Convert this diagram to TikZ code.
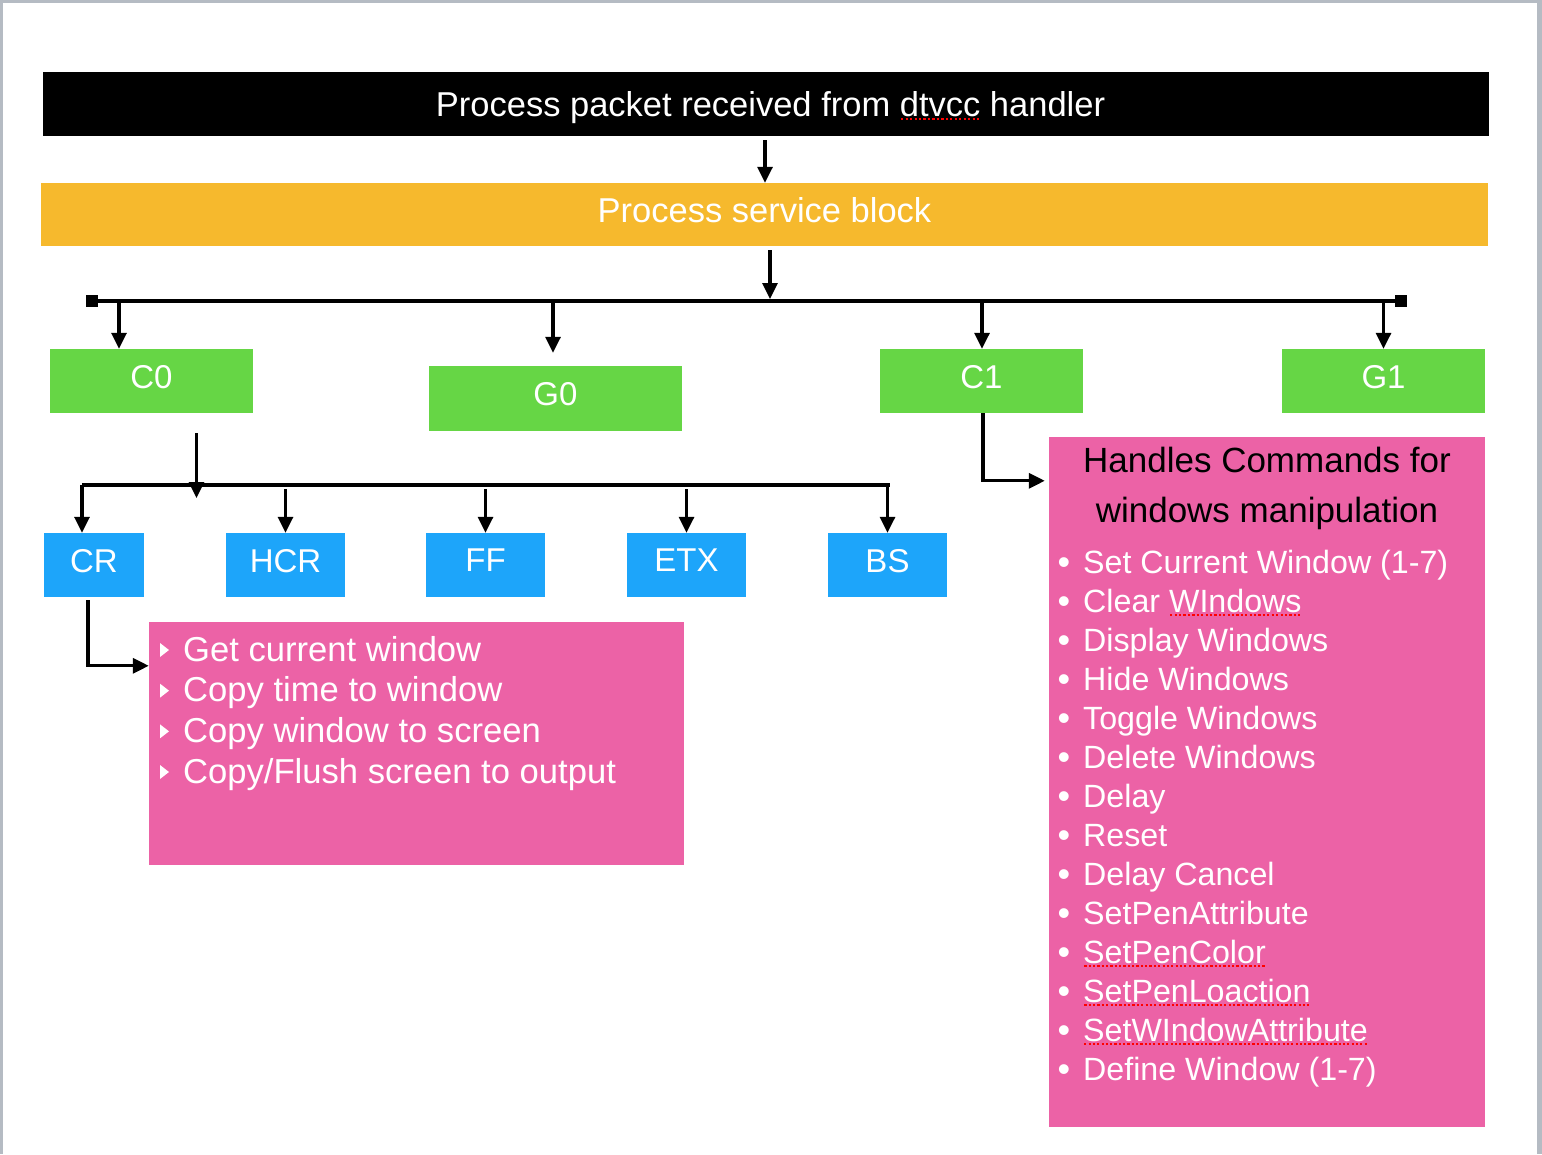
\documentclass[tikz,border=0pt]{standalone}
\usepackage{fontspec}
\setmainfont{Liberation Sans}
\usetikzlibrary{arrows.meta, positioning}

\definecolor{pagegray}{HTML}{B5BBC3}
\definecolor{serviceorange}{HTML}{F6B92D}
\definecolor{setgreen}{HTML}{66D645}
\definecolor{ctrlblue}{HTML}{1DA5FA}
\definecolor{listpink}{HTML}{EC62A6}

% red dotted spell-check mark under a word
\newcommand\spellmark[1]{\sbox0{#1}\rlap{\color{red}\raisebox{-3pt}{\hbox to \wd0{\xleaders\hbox to 4.3pt{\hss\rule{2.2pt}{1.8pt}\hss}\hfill}}}#1}

\begin{document}
\begin{tikzpicture}[x=1pt, y=-1pt,
  box/.style={inner sep=0pt, text=white, font=\fontsize{34.5}{40}\selectfont},
  setbox/.style={box, fill=setgreen, minimum width=203pt, minimum height=64pt, text depth=9pt, font=\fontsize{33}{38}\selectfont},
  ctrlbox/.style={box, fill=ctrlblue, minimum height=64pt, text depth=9pt, font=\fontsize{33}{38}\selectfont},
  listbox/.style={inner sep=0pt, fill=listpink},
  wire/.style={line width=3.2pt},
  link/.style={wire, -{Triangle[length=16pt,width=15pt]}}]

% page
\fill[pagegray] (0,0) rectangle (1542,1154);
\fill[white] (2.5,2.5) rectangle (1537,1154);
\useasboundingbox (0,0) rectangle (1542,1154);

% top blocks
\node[box, fill=black, minimum width=1446pt, minimum height=64pt, text depth=0pt] (packet) at (766,104) {\hspace*{9pt}Process packet received from \spellmark{dtvcc} handler};
\node[box, fill=serviceorange, minimum width=1447pt, minimum height=63pt, text depth=9pt] (service) at (764.5,214.5) {Process service block};

% code sets
\node[setbox] (C0) at (151.5,381) {C0};
\node[setbox, minimum width=253pt, minimum height=65pt] (G0) at (555.5,398.5) {G0};
\node[setbox] (C1) at (981.5,381) {C1};
\node[setbox] (G1) at (1383.5,381) {G1};

\coordinate (busL) at (86,301);
\coordinate (busR) at (1407,301);
\coordinate (busmid) at (770,301);
\draw[wire, {Square[length=12pt,width=12pt]}-{Square[length=12pt,width=12pt]}] (busL) -- (busR);
\draw[link, shorten <=4pt] ([xshift=-1pt]packet.south) -- ([xshift=-1pt]packet.south |- service.north);
\draw[link, shorten <=4pt, shorten >=2pt] (service.south -| busmid) -- (busmid);
\draw[link] ([xshift=-32.5pt]C0.north |- busL) -- ([xshift=-32.5pt]C0.north);
\draw[link, shorten >=13pt] ([xshift=-2.5pt]G0.north |- busL) -- ([xshift=-2.5pt]G0.north);
\draw[link] ([xshift=0.5pt]C1.north |- busL) -- ([xshift=0.5pt]C1.north);
\draw[link] (G1.north |- busL) -- (G1.north);

% C0 controls
\node[ctrlbox, minimum width=100pt] (CR) at (94,565) {CR};
\node[ctrlbox, minimum width=119pt] (HCR) at (285.5,565) {HCR};
\node[ctrlbox, minimum width=119pt] (FF) at (485.5,565) {FF};
\node[ctrlbox, minimum width=119pt] (ETX) at (686.5,565) {ETX};
\node[ctrlbox, minimum width=119pt] (BS) at (887.5,565) {BS};

\coordinate (subL) at (82,485);
\coordinate (subR) at (890,485);
\draw[wire] (subL) -- (subR);
\draw[link, shorten <=20pt, shorten >=-13pt] ([xshift=45pt]C0.south) -- ([xshift=45pt]C0.south |- subL);
\draw[link] (subL) -- (subL |- CR.north);
\draw[link, shorten <=4pt] (HCR.north |- subL) -- (HCR.north);
\draw[link, shorten <=4pt] (FF.north |- subL) -- (FF.north);
\draw[link, shorten <=4pt] (ETX.north |- subL) -- (ETX.north);
\draw[link] (BS.north |- subL) -- (BS.north);

% CR actions
\node[listbox, minimum width=535pt, minimum height=243pt] (crlist) at (416.5,743.5) {};
\draw[link, shorten <=3pt] ([xshift=-6pt]CR.south) |- ([yshift=-44pt]crlist.north west);
\foreach \txt [count=\i from 0] in {Get current window, Copy time to window, Copy window to screen, Copy/Flush screen to output} {
  \node[anchor=base west, inner sep=0pt, text=white, font=\fontsize{34.6}{40}\selectfont] (cr\i) at (183,661+40.67*\i) {\txt};
  \fill[white] (160,643+40.67*\i) -- ++(9,7) -- ++(-9,7) -- cycle;
}

% C1 window commands
\node[listbox, minimum width=436pt, minimum height=690pt] (winlist) at (1267,782) {};
\draw[link, shorten >=4pt] ([xshift=1.5pt]C1.south) |- ([yshift=-44pt]winlist.north west);
\node[anchor=base, inner sep=0pt, font=\fontsize{35}{40}\selectfont] (wintitle) at (1267,472) {Handles Commands for};
\node[anchor=base, inner sep=0pt, font=\fontsize{35}{40}\selectfont] (wintitleb) at (1267,522) {windows manipulation};
\foreach \txt [count=\i from 0] in {Set Current Window (1-7), Clear \spellmark{WIndows}, Display Windows, Hide Windows, Toggle Windows, Delete Windows, Delay, Reset, Delay Cancel, SetPenAttribute, \spellmark{SetPenColor}, \spellmark{SetPenLoaction}, \spellmark{SetWIndowAttribute}, Define Window (1-7)} {
  \node[anchor=base, inner sep=0pt, text=white, font=\fontsize{36}{38}\selectfont] (dot\i) at (1064,574+39*\i) {•};
  \node[anchor=base west, inner sep=0pt, text=white, font=\fontsize{32.2}{38}\selectfont] (cmd\i) at (1083,573.5+39*\i) {\txt};
}
\end{tikzpicture}
\end{document}
